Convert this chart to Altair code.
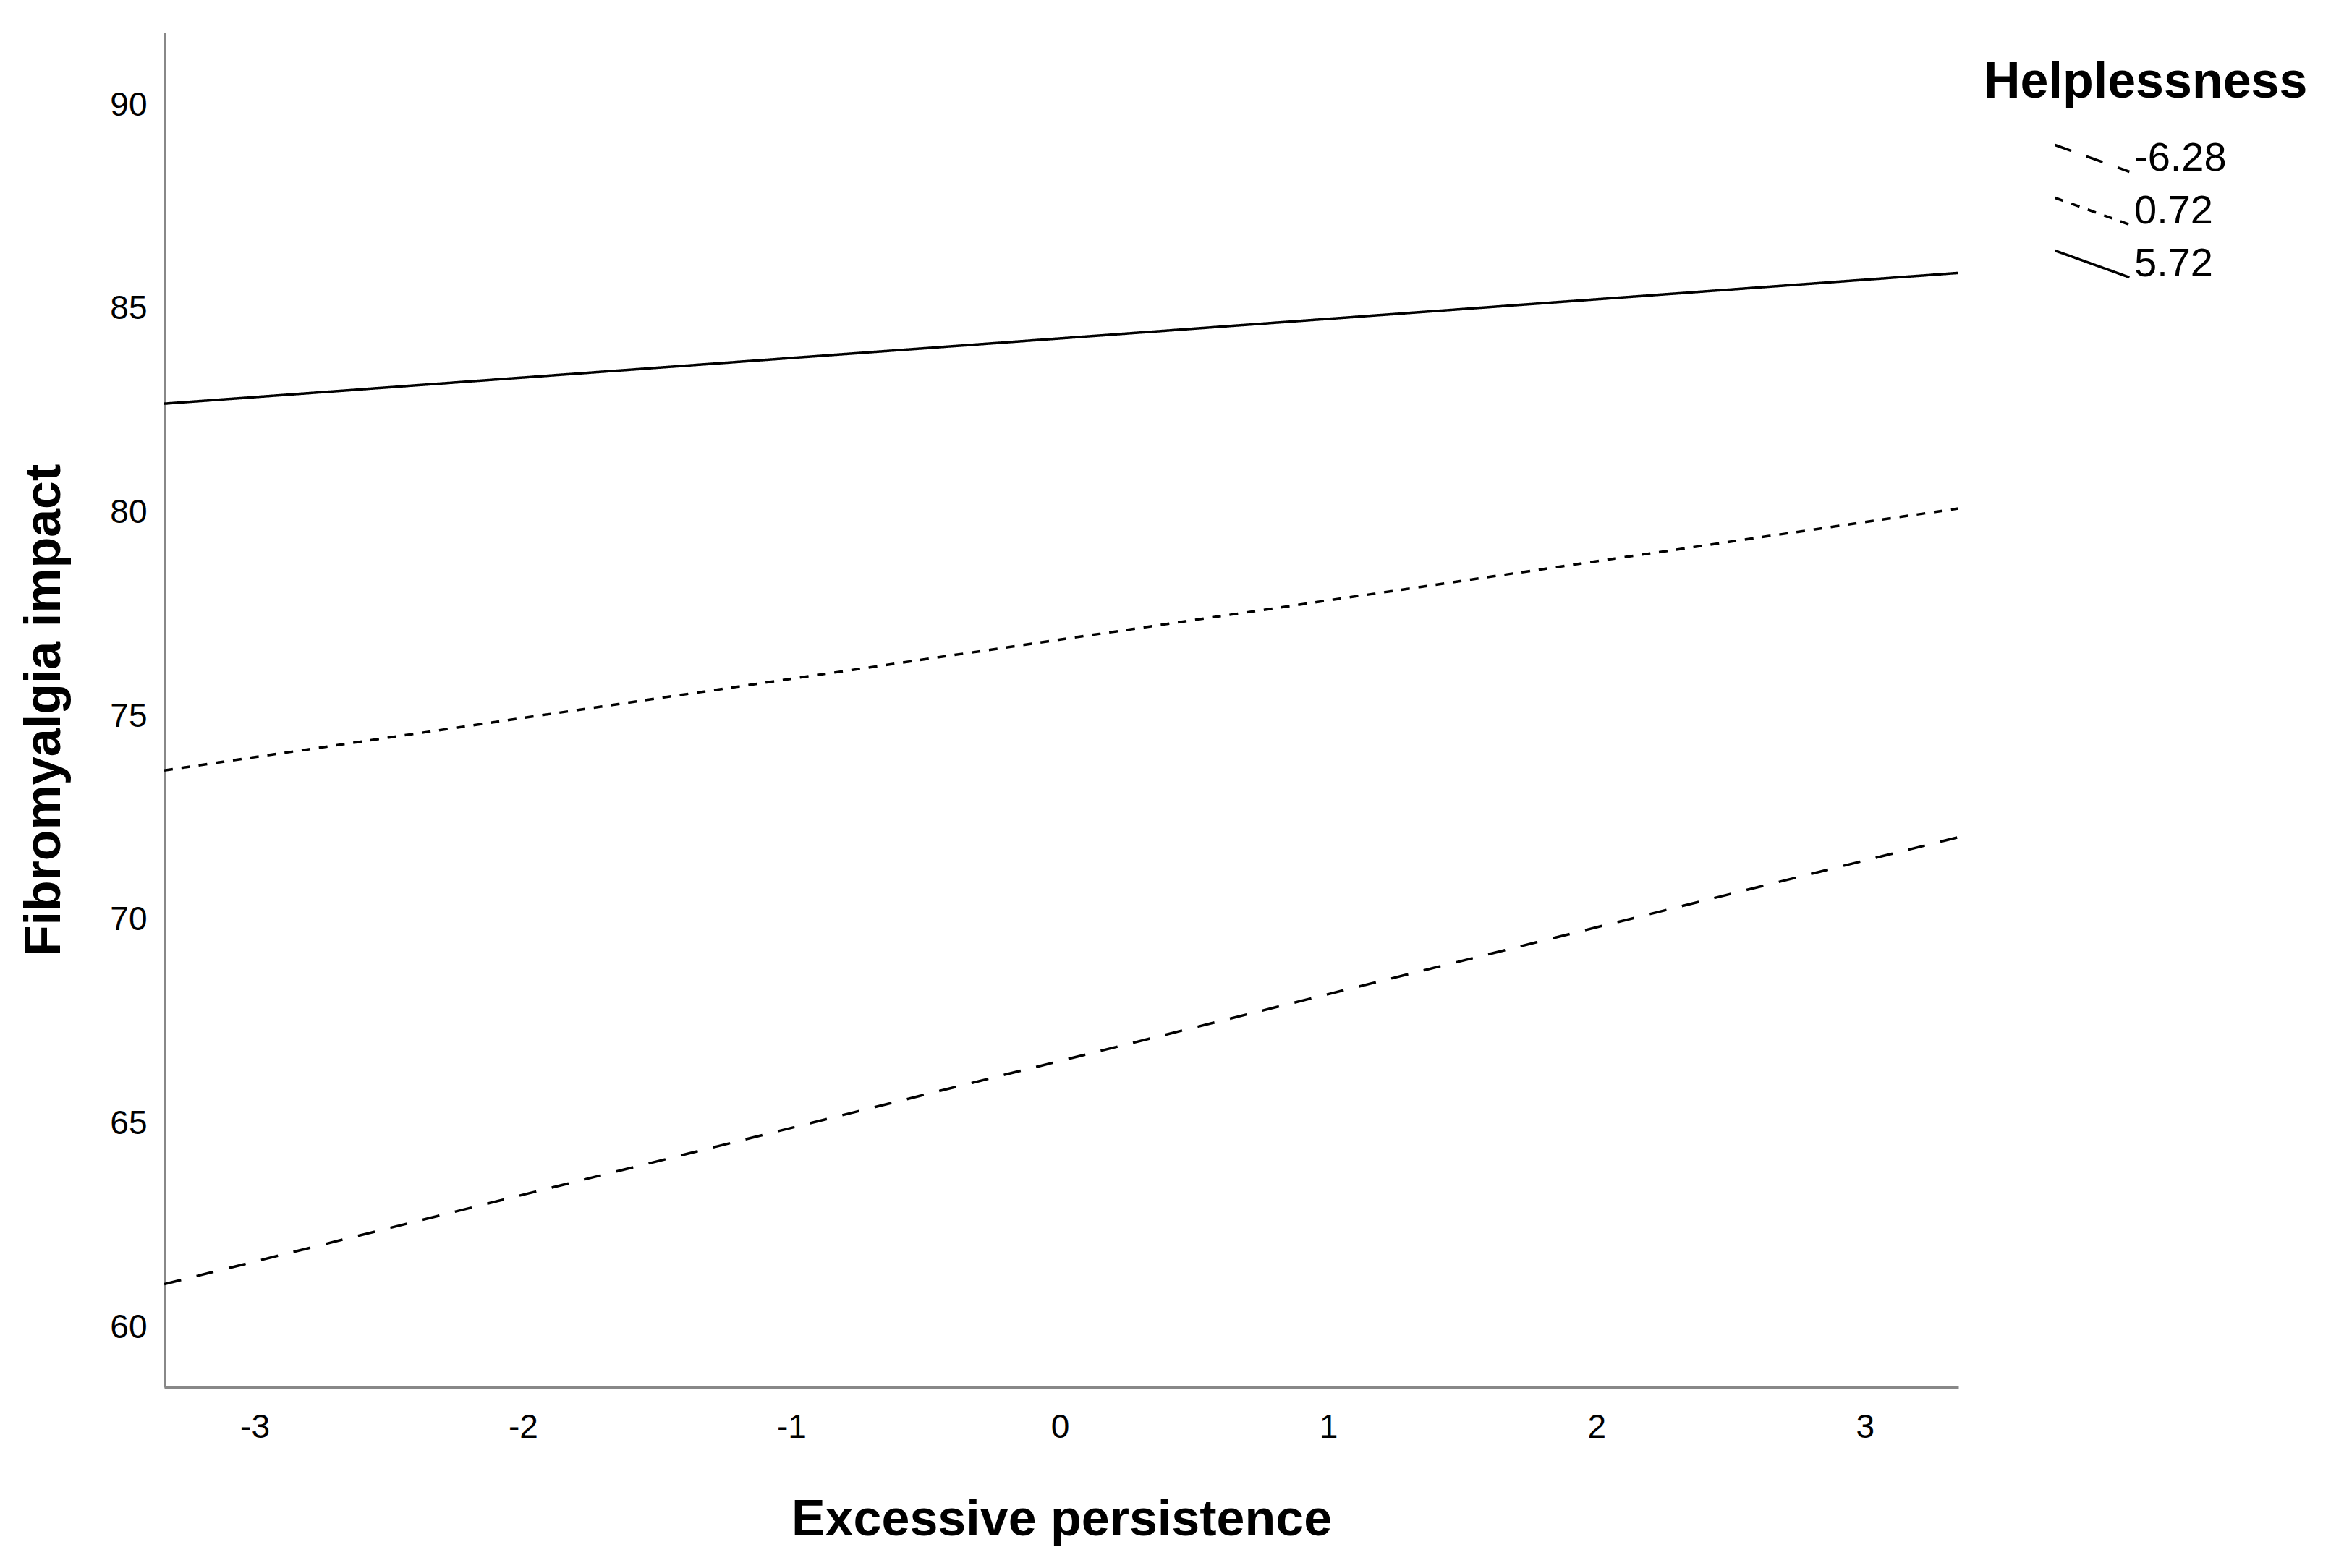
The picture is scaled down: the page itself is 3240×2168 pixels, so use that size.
import altair as alt
import pandas as pd

# ---- data ----
x_ends = [-3.337, 3.348]                      # Excessive persistence range of the lines
helplessness = ["-6.28", "0.72", "5.72"]      # moderator levels
y_start = [61.06, 73.67, 82.67]               # Fibromyalgia impact at x = x_ends[0]
y_end = [72.03, 80.10, 85.88]                 # Fibromyalgia impact at x = x_ends[1]
x_ticks = [-3, -2, -1, 0, 1, 2, 3]
y_ticks = [60, 65, 70, 75, 80, 85, 90]
y_domain = [58.53, 91.78]

rows = []
for h, a, b in zip(helplessness, y_start, y_end):
    rows.append({"persistence": x_ends[0], "impact": a, "Helplessness": h})
    rows.append({"persistence": x_ends[1], "impact": b, "Helplessness": h})
df = pd.DataFrame(rows)

FONT = "Liberation Sans"
W, H = 2480, 1873

chart = alt.Chart(df).mark_line(color="black", strokeWidth=3.5, clip=True).encode(
    x=alt.X("persistence:Q",
            scale=alt.Scale(domain=x_ends, nice=False, zero=False),
            axis=alt.Axis(title="Excessive persistence", values=x_ticks,
                          labelExpr="toString(datum.value)",
                          grid=False, ticks=False, tickSize=0,
                          domainColor="#888888", domainWidth=3,
                          labelFont=FONT, labelFontSize=46, labelColor="black",
                          labelBaseline="alphabetic", labelPadding=69,
                          titleFont=FONT, titleFontSize=70, titleFontWeight="bold",
                          titleColor="black", titleBaseline="alphabetic", titleY=204)),
    y=alt.Y("impact:Q",
            scale=alt.Scale(domain=y_domain, nice=False, zero=False),
            axis=alt.Axis(title="Fibromyalgia impact", values=y_ticks,
                          labelExpr="toString(datum.value)",
                          grid=False, ticks=False, tickSize=0,
                          domainColor="#888888", domainWidth=3,
                          labelFont=FONT, labelFontSize=46, labelColor="black",
                          labelPadding=24,
                          titleFont=FONT, titleFontSize=70, titleFontWeight="bold",
                          titleColor="black", titleAngle=270, titleBaseline="alphabetic",
                          titleAlign="center", titleX=-145, titleY=H / 2)),
    strokeDash=alt.StrokeDash("Helplessness:N",
            scale=alt.Scale(domain=helplessness, range=[[24, 22], [12, 12], [1, 0]]),
            legend=alt.Legend(orient="none", legendX=2515, legendY=35, padding=0,
                              titleFont=FONT, titleFontSize=70, titleFontWeight="bold",
                              titleColor="black", titlePadding=41, titleLimit=2000,
                              labelFont=FONT, labelFontSize=56, labelColor="black",
                              labelLimit=1000,
                              symbolType="M-2.78,-1L2.78,1", symbolSize=1369,
                              symbolStrokeWidth=3.5, symbolStrokeColor="black",
                              symbolOffset=122, labelOffset=30, rowPadding=17)),
    detail="Helplessness:N",
).properties(
    width=W, height=H,
    background="white",
    padding={"left": 219, "top": 37, "right": 517, "bottom": 235},
    autosize=alt.AutoSizeParams(type="none"),
).configure_view(stroke=None)

chart.save("out.html", embed_options={"renderer": "svg", "actions": False})
